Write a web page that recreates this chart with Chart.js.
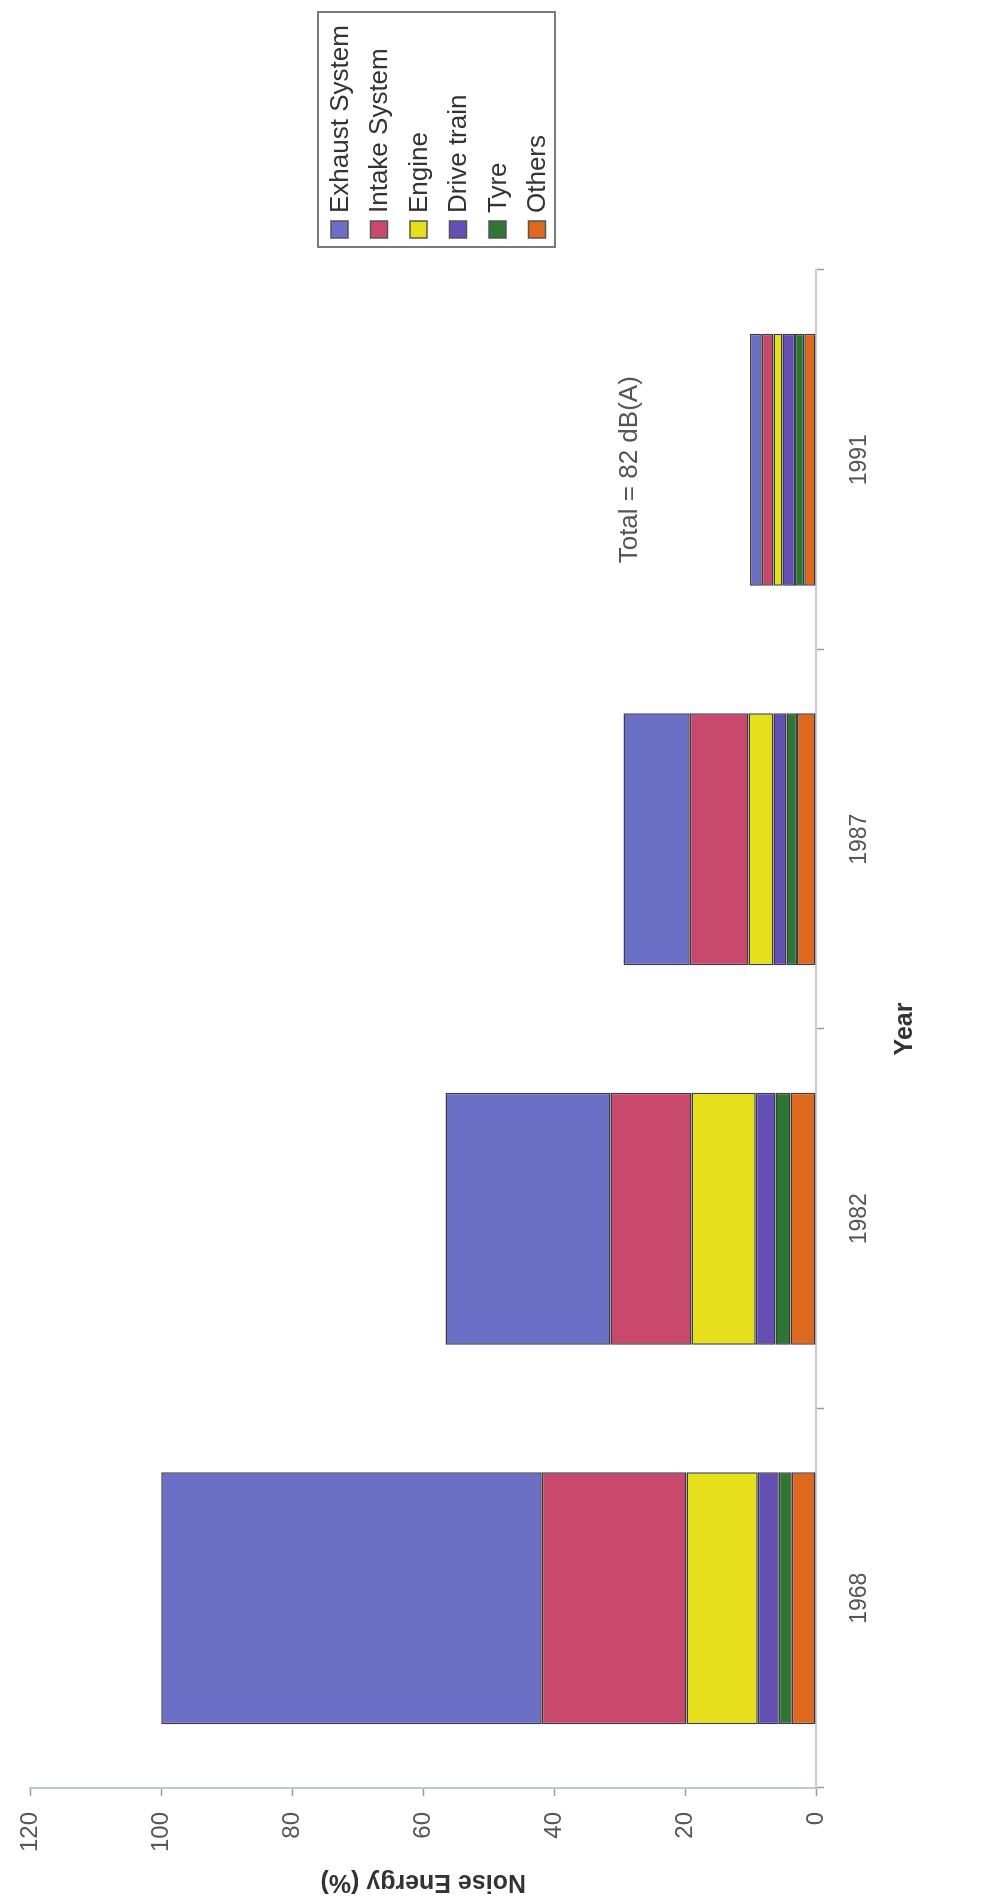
<!DOCTYPE html>
<html>
<head>
<meta charset="utf-8">
<script src="https://cdn.jsdelivr.net/npm/chart.js@4.4.1/dist/chart.umd.min.js"></script>
<style>
  html, body { margin: 0; padding: 0; background: #ffffff; }
  body { width: 996px; height: 1901px; overflow: hidden; position: relative; }
  #wrap {
    position: absolute; left: 0; top: 0;
    width: 1901px; height: 996px;
    transform-origin: 0 0;
    transform: translateY(1901px) rotate(-90deg);
    background: #ffffff;
  }
  canvas { display: block; }
</style>
</head>
<body>
<div id="wrap"><canvas id="c" width="1901" height="996" style="width:1901px;height:996px"></canvas></div>
<script>
// ---- data ----
const years = ['1968', '1982', '1987', '1991'];
const exhaustSystem = [58.1, 25.2, 10.1, 1.8];
const intakeSystem  = [22.1, 12.4, 9.0, 1.8];
const engine        = [10.9, 9.8, 3.8, 1.4];
const driveTrain    = [3.2, 3.0, 2.0, 1.9];
const tyre          = [2.0, 2.3, 1.6, 1.4];
const others        = [3.7, 3.9, 2.9, 1.8];
const valueTicks = [0, 20, 40, 60, 80, 100, 120];
const seriesNames = ['Exhaust System', 'Intake System', 'Engine', 'Drive train', 'Tyre', 'Others'];
const noteText = 'Total = 82 dB(A)';
const noteYear = '1991';
const noteValue = 28.5;

// ---- styles ----
const FONT = "'Liberation Sans', Arial, sans-serif";
const colors = {
  'Exhaust System': '#6b70c6',
  'Intake System': '#c9496e',
  'Engine': '#e6df1c',
  'Drive train': '#6450b4',
  'Tyre': '#2f7634',
  'Others': '#df681f'
};
const seriesData = {
  'Exhaust System': exhaustSystem,
  'Intake System': intakeSystem,
  'Engine': engine,
  'Drive train': driveTrain,
  'Tyre': tyre,
  'Others': others
};

// stacking order: bottom first
const stackOrder = seriesNames.slice().reverse();
const datasets = stackOrder.map(name => ({
  label: name,
  data: seriesData[name],
  backgroundColor: colors[name],
  borderColor: '#3c3c44',
  borderWidth: 1.5,
  borderSkipped: false,
  barPercentage: 0.664,
  categoryPercentage: 1.0
}));

const legendBoxPlugin = {
  id: 'legendBox',
  afterDraw(chart) {
    const ctx = chart.ctx;
    const box = { x: 1654, y: 318, w: 235, h: 237 };
    ctx.save();
    ctx.strokeStyle = '#7a7a7a';
    ctx.lineWidth = 2;
    ctx.strokeRect(box.x, box.y, box.w, box.h);
    ctx.font = '26px ' + FONT;
    ctx.textBaseline = 'middle';
    ctx.textAlign = 'left';
    const ds = chart.data.datasets.slice().reverse();
    ds.forEach((d, i) => {
      const cy = box.y + 21.5 + i * 39.5;
      ctx.fillStyle = d.backgroundColor;
      ctx.fillRect(box.x + 9, cy - 8.5, 17, 17);
      ctx.strokeStyle = '#555';
      ctx.lineWidth = 1.5;
      ctx.strokeRect(box.x + 9, cy - 8.5, 17, 17);
      ctx.fillStyle = '#333';
      ctx.fillText(d.label, box.x + 34, cy + 1);
    });
    ctx.restore();
  }
};

const notePlugin = {
  id: 'note',
  afterDatasetsDraw(chart) {
    const ctx = chart.ctx;
    const xs = chart.scales.x, ys = chart.scales.y;
    const x = xs.getPixelForValue(years.indexOf(noteYear)) - 10;
    const y = ys.getPixelForValue(noteValue);
    ctx.save();
    ctx.font = '26px ' + FONT;
    ctx.fillStyle = '#555';
    ctx.textAlign = 'center';
    ctx.textBaseline = 'middle';
    ctx.fillText(noteText, x, y);
    ctx.restore();
  }
};

new Chart(document.getElementById('c'), {
  type: 'bar',
  data: { labels: years, datasets },
  options: {
    responsive: false,
    animation: false,
    layout: { padding: { top: 28, right: 270, bottom: 0, left: 0 } },
    plugins: {
      legend: { display: false },
      tooltip: { enabled: false }
    },
    scales: {
      x: {
        stacked: true,
        offset: true,
        afterFit(scale) { scale.height = 180; },
        grid: {
          offset: true,
          drawOnChartArea: false,
          drawTicks: true,
          tickLength: 8,
          tickColor: (ctx) => (ctx.index === years.length ? 'rgba(0,0,0,0)' : '#9a9aa8'),
          tickWidth: 1.5
        },
        border: { display: true, color: '#c6cadf', width: 2, dash: [2, 3] },
        ticks: {
          color: '#555',
          font: { family: FONT, size: 23 },
          padding: 22,
          maxRotation: 0,
          minRotation: 0
        },
        title: {
          display: true,
          text: 'Year',
          color: '#333',
          font: { family: FONT, size: 25, weight: 'bold' },
          padding: { top: 0, bottom: 76 }
        }
      },
      y: {
        stacked: true,
        min: 0,
        max: 120,
        afterFit(scale) { scale.width = 113; },
        afterBuildTicks(scale) { scale.ticks = valueTicks.map(v => ({ value: v })); },
        grid: {
          drawOnChartArea: false,
          drawTicks: true,
          tickLength: 8,
          tickColor: '#9a9aa8',
          tickWidth: 1.5
        },
        border: { display: true, color: '#c0c4da', width: 2, dash: [3, 3] },
        ticks: {
          color: '#555',
          font: { family: FONT, size: 24 },
          padding: 16
        },
        title: {
          display: true,
          text: 'Noise Energy (%)',
          color: '#333',
          font: { family: FONT, size: 25, weight: 'bold' },
          padding: { top: 4, bottom: 0 }
        }
      }
    }
  },
  plugins: [legendBoxPlugin, notePlugin]
});
</script>
</body>
</html>
